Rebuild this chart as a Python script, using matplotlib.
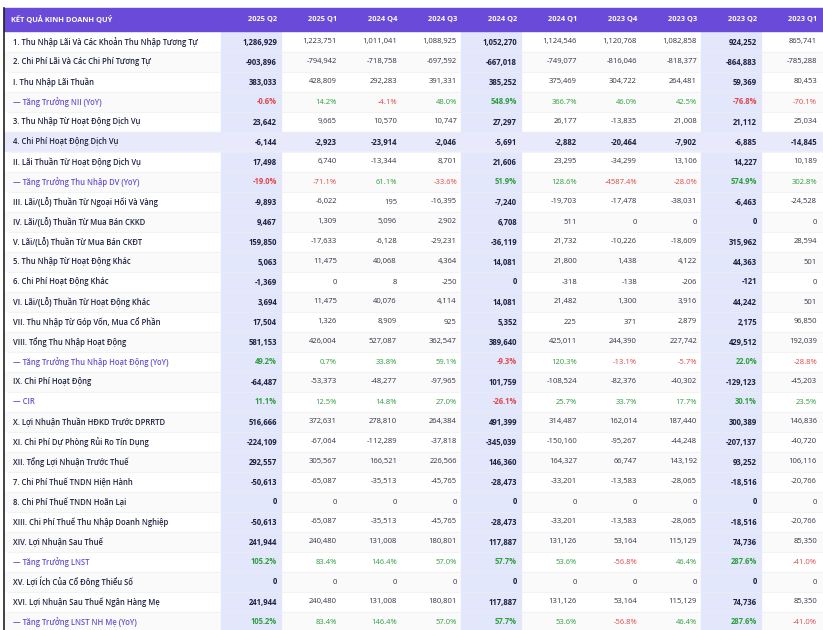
import matplotlib
matplotlib.use("Agg")
import matplotlib.pyplot as plt
from matplotlib.patches import Rectangle

title = "KẾT QUẢ KINH DOANH QUÝ"
quarters = ["2025 Q2","2025 Q1","2024 Q4","2024 Q3","2024 Q2","2024 Q1","2023 Q4","2023 Q3","2023 Q2","2023 Q1"]
labels = [
 "1. Thu Nhập Lãi Và Các Khoản Thu Nhập Tương Tự",
 "2. Chi Phí Lãi Và Các Chi Phí Tương Tự",
 "I. Thu Nhập Lãi Thuần",
 "— Tăng Trưởng NII (YoY)",
 "3. Thu Nhập Từ Hoạt Động Dịch Vụ",
 "4. Chi Phí Hoạt Động Dịch Vụ",
 "II. Lãi Thuần Từ Hoạt Động Dịch Vụ",
 "— Tăng Trưởng Thu Nhập DV (YoY)",
 "III. Lãi/(Lỗ) Thuần Từ Ngoại Hối Và Vàng",
 "IV. Lãi/(Lỗ) Thuần Từ Mua Bán CKKD",
 "V. Lãi/(Lỗ) Thuần Từ Mua Bán CKĐT",
 "5. Thu Nhập Từ Hoạt Động Khác",
 "6. Chi Phí Hoạt Động Khác",
 "VI. Lãi/(Lỗ) Thuần Từ Hoạt Động Khác",
 "VII. Thu Nhập Từ Góp Vốn, Mua Cổ Phần",
 "VIII. Tổng Thu Nhập Hoạt Động",
 "— Tăng Trưởng Thu Nhập Hoạt Động (YoY)",
 "IX. Chi Phí Hoạt Động",
 "— CIR",
 "X. Lợi Nhuận Thuần HĐKD Trước DPRRTD",
 "XI. Chi Phí Dự Phòng Rủi Ro Tín Dụng",
 "XII. Tổng Lợi Nhuận Trước Thuế",
 "7. Chi Phí Thuế TNDN Hiện Hành",
 "8. Chi Phí Thuế TNDN Hoãn Lại",
 "XIII. Chi Phí Thuế Thu Nhập Doanh Nghiệp",
 "XIV. Lợi Nhuận Sau Thuế",
 "— Tăng Trưởng LNST",
 "XV. Lợi Ích Của Cổ Đông Thiểu Số",
 "XVI. Lợi Nhuận Sau Thuế Ngân Hàng Mẹ",
 "— Tăng Trưởng LNST NH Mẹ (YoY)",
]
r01 = [1286929,1223751,1011041,1088925,1052270,1124546,1120768,1082858,924252,865741]
r02 = [-903896,-794942,-718758,-697592,-667018,-749077,-816046,-818377,-864883,-785288]
r03 = [383033,428809,292283,391331,385252,375469,304722,264481,59369,80453]
r04 = [-0.6,14.2,-4.1,48.0,548.9,366.7,46.0,42.5,-76.8,-70.1]
r05 = [23642,9665,10570,10747,27297,26177,-13835,21008,21112,25034]
r06 = [-6144,-2923,-23914,-2046,-5691,-2882,-20464,-7902,-6885,-14845]
r07 = [17498,6740,-13344,8701,21606,23295,-34299,13106,14227,10189]
r08 = [-19.0,-71.1,61.1,-33.6,51.9,128.6,-4587.4,-28.0,574.9,302.8]
r09 = [-9893,-6022,195,-16395,-7240,-19703,-17478,-38031,-6463,-24528]
r10 = [9467,1309,5096,2902,6708,511,0,0,0,0]
r11 = [159850,-17633,-6128,-29231,-36119,21732,-10226,-18609,315962,28594]
r12 = [5063,11475,40068,4364,14081,21800,1438,4122,44363,501]
r13 = [-1369,0,8,-250,0,-318,-138,-206,-121,0]
r14 = [3694,11475,40076,4114,14081,21482,1300,3916,44242,501]
r15 = [17504,1326,8909,925,5352,225,371,2879,2175,96850]
r16 = [581153,426004,527087,362547,389640,425011,244390,227742,429512,192039]
r17 = [49.2,0.7,33.8,59.1,-9.3,120.3,-13.1,-5.7,22.0,-28.8]
r18 = [-64487,-53373,-48277,-97965,101759,-108524,-82376,-40302,-129123,-45203]
r19 = [11.1,12.5,14.8,27.0,-26.1,25.7,33.7,17.7,30.1,23.5]
r20 = [516666,372631,278810,264384,491399,314487,162014,187440,300389,146836]
r21 = [-224109,-67064,-112289,-37818,-345039,-150160,-95267,-44248,-207137,-40720]
r22 = [292557,305567,166521,226566,146360,164327,66747,143192,93252,106116]
r23 = [-50613,-65087,-35513,-45765,-28473,-33201,-13583,-28065,-18516,-20766]
r24 = [0,0,0,0,0,0,0,0,0,0]
r25 = [-50613,-65087,-35513,-45765,-28473,-33201,-13583,-28065,-18516,-20766]
r26 = [241944,240480,131008,180801,117887,131126,53164,115129,74736,85350]
r27 = [105.2,83.4,146.4,57.0,57.7,53.6,-56.8,46.4,287.6,-41.0]
r28 = [0,0,0,0,0,0,0,0,0,0]
r29 = [241944,240480,131008,180801,117887,131126,53164,115129,74736,85350]
r30 = [105.2,83.4,146.4,57.0,57.7,53.6,-56.8,46.4,287.6,-41.0]
rows = [r01,r02,r03,r04,r05,r06,r07,r08,r09,r10,r11,r12,r13,r14,r15,
        r16,r17,r18,r19,r20,r21,r22,r23,r24,r25,r26,r27,r28,r29,r30]
pct_rows = {3,7,16,18,26,29}
highlight_row = 5
highlight_cols = {0,4,8}

W, H = 823, 630
fig = plt.figure(figsize=(W/100, H/100), dpi=100)
ax = fig.add_axes([0,0,1,1])
ax.set_xlim(0, W); ax.set_ylim(H, 0); ax.axis("off")
FONT = "Open Sans"
fs = 5.5

# header
hx0, hy0, hh = 4, 8, 23
ax.add_patch(Rectangle((hx0, hy0), W-hx0, hh, color="#6a4bd9", zorder=1))
ax.text(11, hy0+hh/2, title, color="white", fontsize=5.4, fontweight="bold", va="center", ha="left", family=FONT)
col_right = [277 + 60*i for i in range(10)]
for i, q in enumerate(quarters):
    ax.text(col_right[i], hy0+hh/2, q, color="white", fontsize=5.4, fontweight="bold", va="center", ha="right", family=FONT)

ax.plot([4, 4], [hy0, H], color="#222222", lw=1.2, zorder=5)

y0, rh = 32, 20
for r, (lab, vals) in enumerate(zip(labels, rows)):
    y = y0 + r*rh
    bg = "#fafafa" if r % 2 == 1 else "white"
    if r == highlight_row:
        bg = "#e8eafc"
    ax.add_patch(Rectangle((4, y), W-4, rh, color=bg, zorder=0))
    ax.plot([8, W], [y+rh, y+rh], color="#eeeeee", lw=0.5, zorder=1)
    is_pct = r in pct_rows
    ax.text(13, y+rh/2, lab, color="#6a4fd0" if is_pct else "#1e2140", fontsize=fs,
            fontweight="semibold", va="center", ha="left", family=FONT)
    for c, v in enumerate(vals):
        if c in highlight_cols and r != highlight_row:
            ax.add_patch(Rectangle((col_right[c]-56, y), 60, rh, color="#e3e7fc", zorder=0.5))
        bold = (c in highlight_cols) or r == highlight_row
        if is_pct:
            s = f"{v:.1f}%"
            colr = "#2e9e3e" if v >= 0 else "#e0474c"
        else:
            s = f"{v:,}"
            colr = "#1e2140" if bold else "#333344"
        ax.text(col_right[c], y+rh/2, s, color=colr, fontsize=fs,
                fontweight="bold" if bold else "normal", va="center", ha="right", family=FONT)

fig.savefig("out.png", dpi=100)
